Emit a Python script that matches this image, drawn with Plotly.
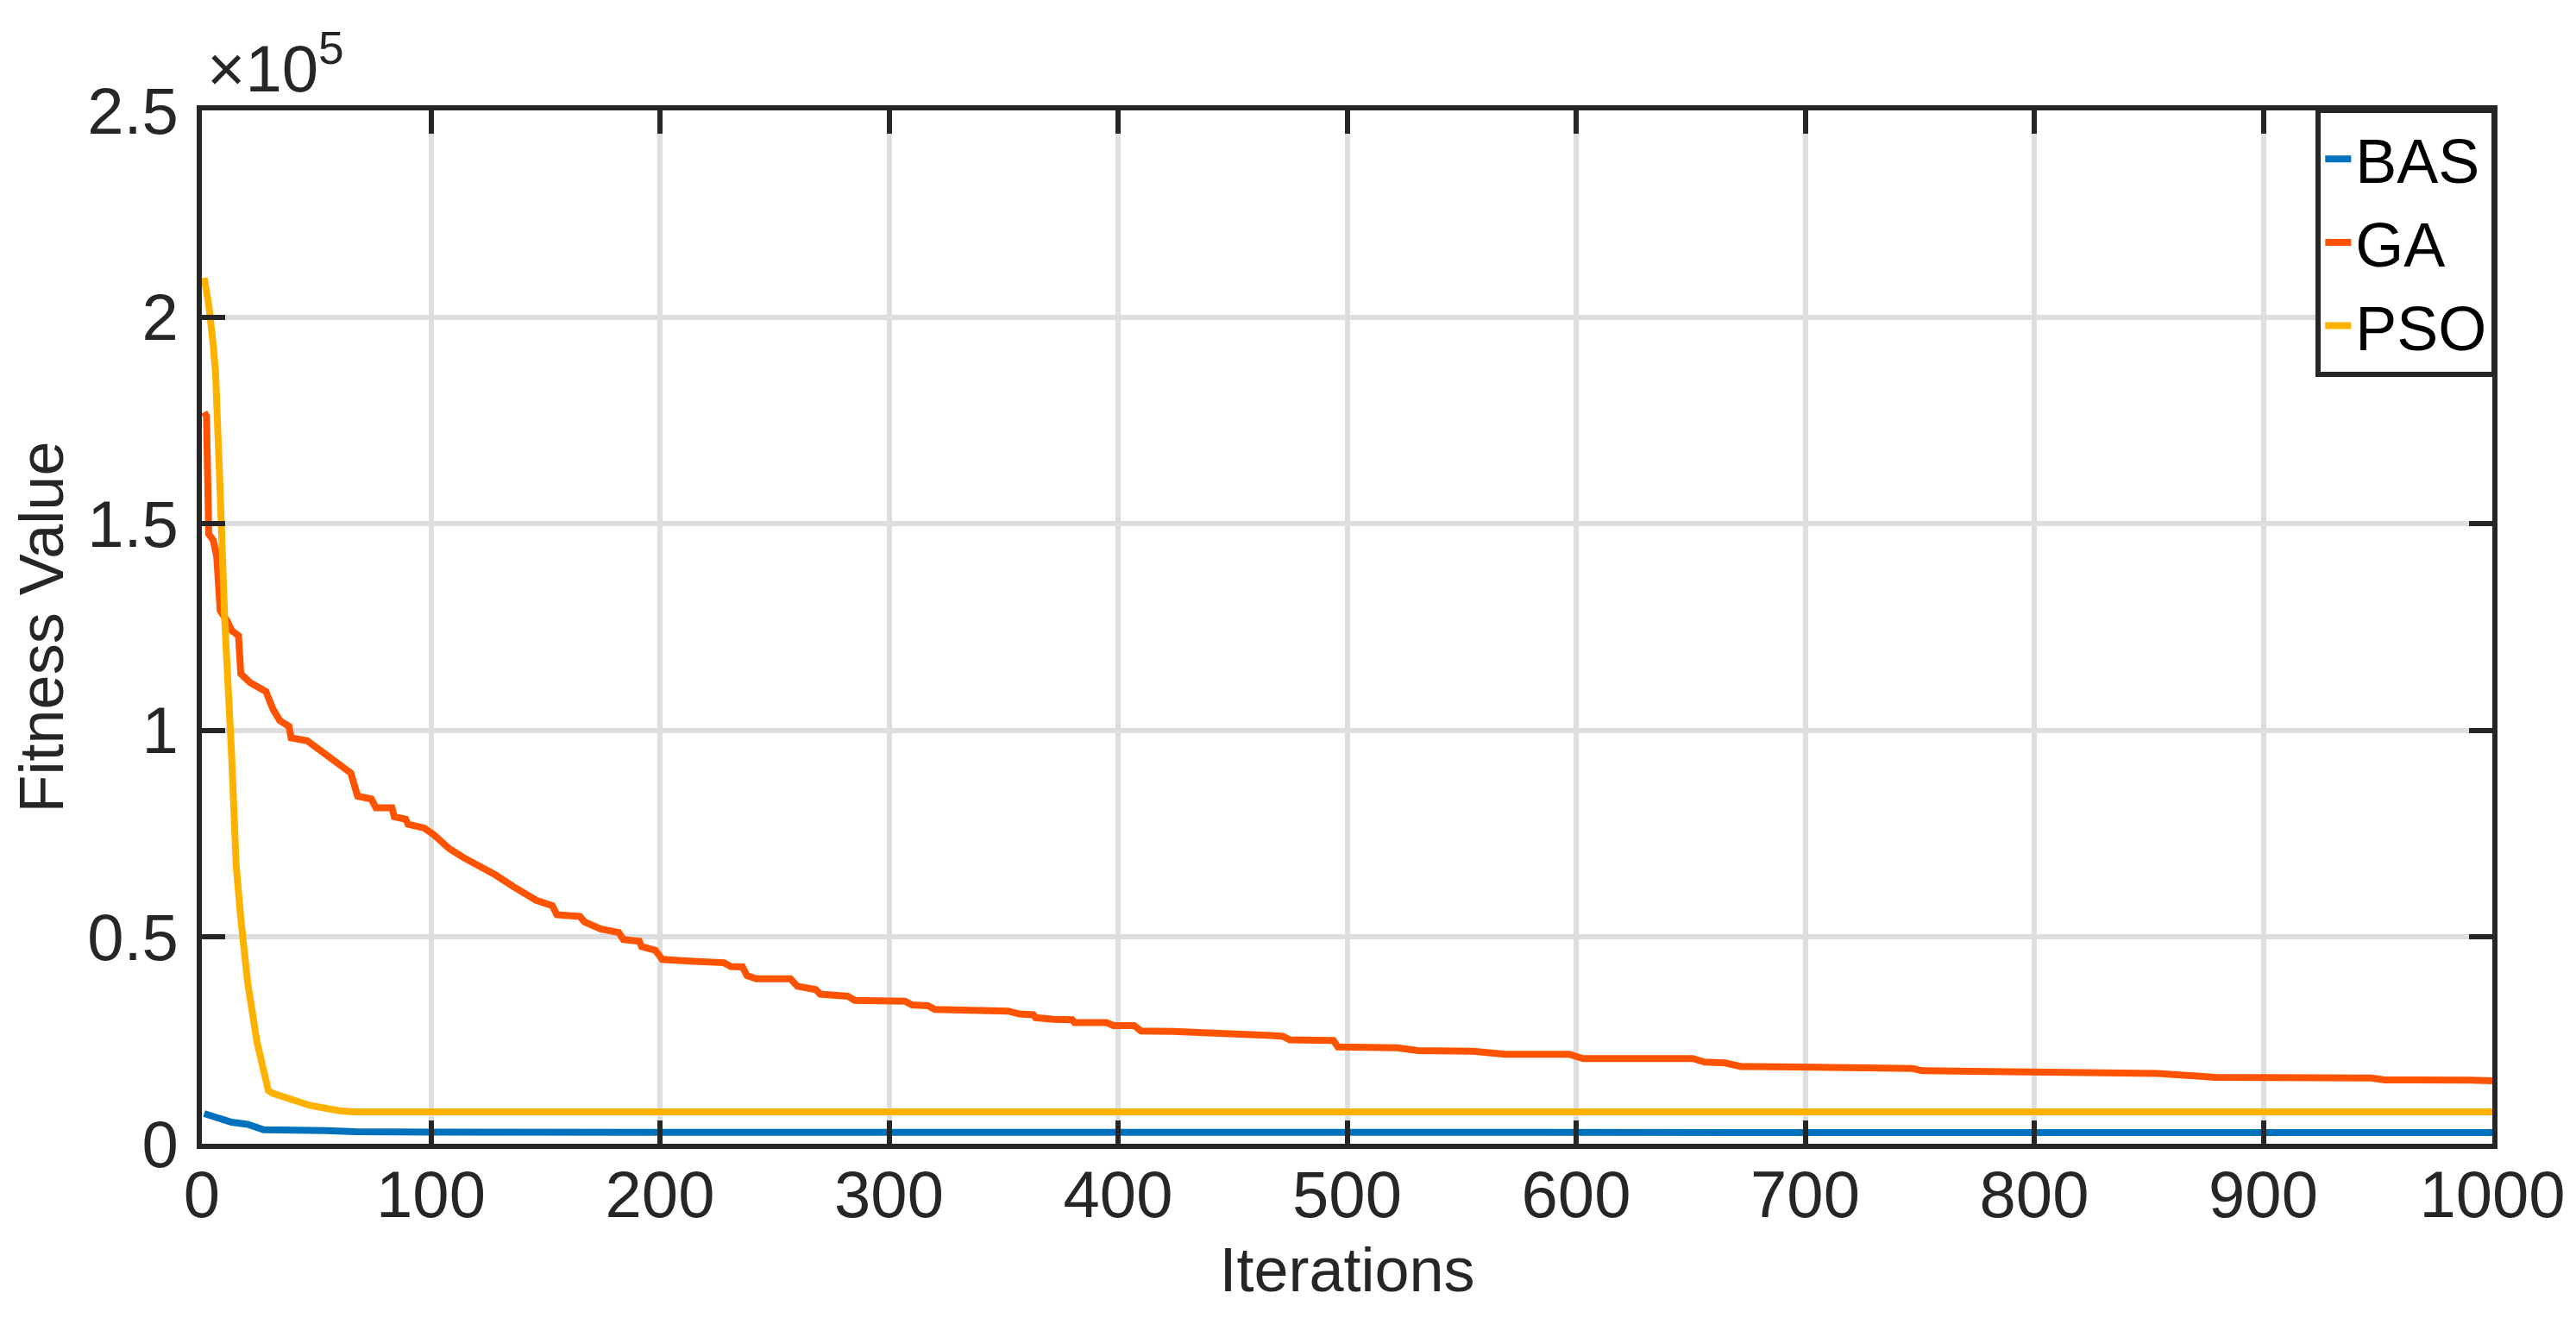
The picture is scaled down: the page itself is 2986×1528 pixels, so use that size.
import plotly.graph_objects as go

# ---------------------------------------------
# Convergence curves
# ---------------------------------------------
bas_iter = [1, 5, 10, 13, 20, 23, 27, 54, 67, 100, 1000]
bas_fit = [7300, 6700, 6000, 5200, 4700, 4200, 3400, 3200, 2900, 2800, 2700]

ga_iter = [1, 2, 3, 5, 6.5, 8, 11, 13, 16, 17, 21, 28, 31, 34, 38, 39, 46, 53, 60, 65,
           68, 74, 76, 83, 84, 89, 90, 97, 101, 108, 114, 121, 128, 136, 141, 146, 153,
           155, 165, 167, 174, 182, 184, 191, 192, 198, 201, 208, 213, 228, 231, 236,
           238, 242, 257, 260, 268, 270, 282, 285, 307, 310, 317, 320, 352, 357, 363,
           364, 371, 372, 380, 381, 395, 398, 407, 410, 424, 460, 467, 472, 475, 494,
           496, 522, 531, 555, 569, 597, 603, 651, 656, 665, 672, 704, 747, 751, 765,
           769, 829, 854, 865, 876, 879, 947, 953, 990, 1000]
ga_fit = [177000, 176000, 147500, 146000, 142000, 129000, 126500, 124200, 122900,
          113700, 111600, 109400, 105200, 102400, 101000, 98200, 97500, 94600, 91800,
          89700, 84100, 83400, 81300, 81300, 79100, 78500, 77300, 76400, 74900, 71400,
          69300, 67200, 65100, 62200, 60600, 58900, 57600, 55400, 55000, 53700, 52000,
          51100, 49400, 49000, 47700, 46800, 44600, 44600, 44200, 43800, 42900, 42800,
          40700, 39900, 39900, 38100, 37300, 36200, 35700, 34700, 34500, 33600, 33400,
          32500, 32100, 31400, 31200, 30500, 30500, 30100, 30000, 29300, 29300, 28600,
          28600, 27300, 27200, 26700, 26200, 26000, 25150, 25000, 23400, 23200, 22540,
          22400, 21640, 21640, 20600, 20600, 19760, 19550, 18700, 18500, 18200, 17670,
          17600, 17300, 17300, 17000, 16600, 16400, 16070, 15900, 15440, 15400, 15250]

pso_iter = [1, 3, 5, 6, 8, 10, 13, 15, 17, 20, 24, 29, 31, 35, 47, 60, 66, 1000]
pso_fit = [209500, 203000, 193000, 186300, 157400, 126500, 93900, 67200, 54500,
           39000, 24800, 12900, 12200, 11400, 9300, 8000, 7700, 7700]

y_ticks = [0, 50000, 100000, 150000, 200000, 250000]
y_ticktext = ["0", "0.5", "1", "1.5", "2", "2.5"]
x_ticks = list(range(0, 1001, 100))

FONT = "Arial, Liberation Sans, sans-serif"
AX = "#262626"

fig = go.Figure()

fig.add_trace(go.Scatter(x=bas_iter, y=bas_fit, mode="lines", name="BAS",
                         line=dict(color="#0072BD", width=8)))
fig.add_trace(go.Scatter(x=ga_iter, y=ga_fit, mode="lines", name="GA",
                         line=dict(color="#FF5300", width=8)))
fig.add_trace(go.Scatter(x=pso_iter, y=pso_fit, mode="lines", name="PSO",
                         line=dict(color="#FFB100", width=8)))

axis_common = dict(
    showline=True, linecolor=AX, linewidth=6, mirror="ticks",
    ticks="inside", ticklen=27, tickwidth=6, tickcolor=AX,
    showgrid=True, gridcolor="#dedede", gridwidth=6,
    zeroline=False,
    tickfont=dict(family=FONT, size=76, color=AX),
)

fig.update_xaxes(
    range=[0, 1000], tickvals=x_ticks,
    title=dict(text="Iterations", font=dict(family=FONT, size=72, color=AX), standoff=22),
    ticklabelstandoff=-12,
    **axis_common,
)
fig.update_yaxes(
    range=[0, 250000], tickvals=y_ticks, ticktext=y_ticktext,
    title=dict(text="Fitness Value", font=dict(family=FONT, size=72, color=AX), standoff=12),
    ticklabelstandoff=6,
    **axis_common,
)

# MATLAB-style exponent label
fig.add_annotation(
    text="×10<sup>5</sup>", xref="paper", yref="paper", x=0, y=1,
    xanchor="left", yanchor="bottom", showarrow=False, xshift=4, yshift=4,
    font=dict(family=FONT, size=76, color=AX),
)

fig.update_layout(
    width=2986, height=1528,
    margin=dict(l=226, r=105, t=120, b=210, autoexpand=False),
    plot_bgcolor="white", paper_bgcolor="white",
    showlegend=True,
    legend=dict(
        x=1.002, y=1.0025, xanchor="right", yanchor="top",
        bgcolor="white", bordercolor=AX, borderwidth=6,
        font=dict(family=FONT, size=72, color="black"),
        tracegroupgap=0, itemwidth=30,
    ),
)

fig.write_html("out.html")
